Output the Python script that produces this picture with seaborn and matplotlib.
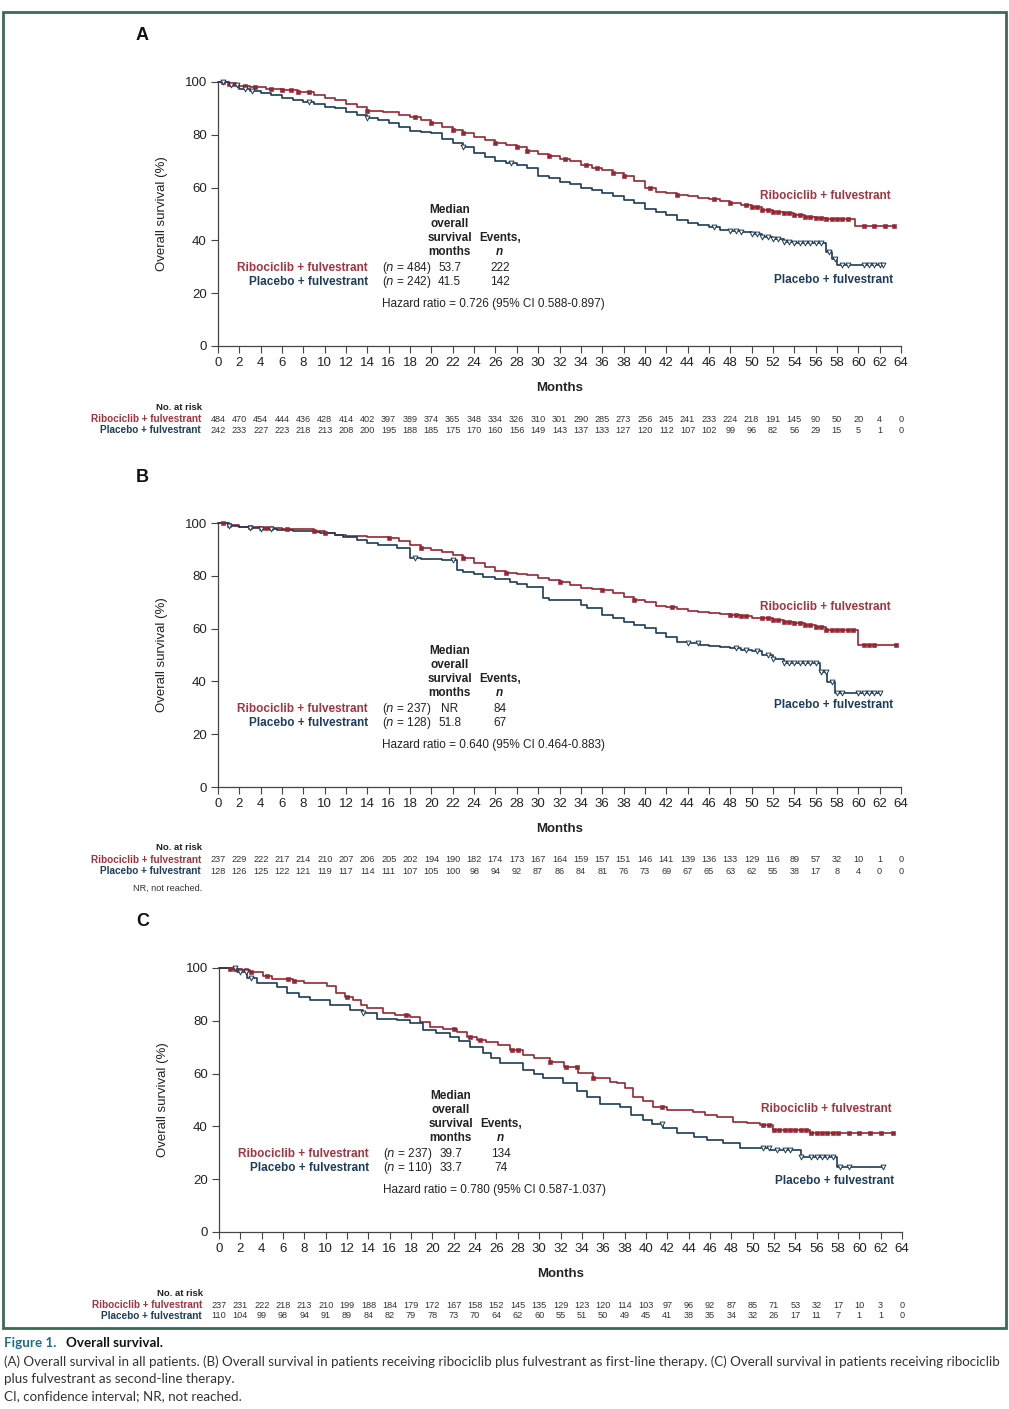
import numpy as np
import pandas as pd
import matplotlib
matplotlib.use("Agg")
import matplotlib.pyplot as plt
import matplotlib.transforms as mtransforms
from matplotlib.patches import Rectangle
import seaborn as sns

sns.set_theme(style="ticks")
plt.rcParams['font.family'] = ['Liberation Sans', 'DejaVu Sans']

RED = "#962632"
NAVY = "#1C3B5A"
RED_TXT = "#A3343E"
NAVY_TXT = "#1E3D5C"

months_ticks = list(range(0, 65, 2))

# ---------------- Panel A ----------------
a_ribo_t = [0, 1, 2, 3, 4.5, 6, 7.5, 9, 10, 11, 12, 13, 14, 15.5, 17, 18, 19, 20, 21, 22, 23, 24, 25, 26, 27, 28, 29, 30, 31, 32, 33, 34, 35, 36, 37, 38, 39, 40, 41, 42, 43, 44, 45, 46, 47, 48, 49, 50, 51, 52, 53, 54, 55, 56, 57, 58, 59.7, 63.3]
a_ribo_s = [100, 99.3, 98.6, 98, 97.3, 96.8, 96.2, 95, 94, 93, 91.5, 90.5, 89.2, 88.8, 87.5, 86.9, 85.5, 84.3, 83, 82, 80.5, 79, 78, 77, 76, 75.5, 74, 72.8, 72, 71, 70, 68.5, 67.3, 66.5, 65.5, 64.5, 62.5, 60, 58.5, 58, 57.3, 56.8, 56, 55.5, 54.8, 54, 53.3, 52.5, 51.5, 50.8, 50.3, 49.6, 49, 48.6, 48.1, 48, 45.6, 45.6]
a_plac_t = [0, 1, 2, 3, 4, 5, 6, 7, 8, 9, 10, 11, 12, 13, 14, 15, 16, 17, 18, 19, 20, 21, 22, 23, 24, 25, 26, 27, 28, 29, 30, 31, 32, 33, 34, 35, 36, 37, 38, 39, 40, 41, 42, 43, 44, 45, 46, 47, 48, 49, 50, 51, 52, 53, 54, 55, 56, 57, 57.5, 58, 62.3]
a_plac_s = [100, 98.8, 97.5, 96.5, 95.7, 95, 94, 93.2, 92.5, 91.5, 90.7, 90, 88.8, 87.5, 86.5, 85.5, 84.3, 83, 81.5, 81.2, 80.6, 78.5, 77, 75.5, 73, 71.7, 70, 69.5, 68.5, 67.3, 64.5, 63.5, 62.2, 61.5, 60, 59, 58, 57, 55.3, 54, 52, 50.9, 49.5, 47.7, 46.5, 45.8, 45, 44, 43.6, 43.3, 42.5, 41.4, 40.5, 39.5, 39.2, 38.9, 38.9, 35.7, 33, 30.7, 30.7]
a_ribo_cens = [0.5, 1, 1.5, 2.5, 3.5, 5, 6, 6.8, 7.5, 8.5, 14, 18.5, 20, 22, 23, 26, 28, 29, 31, 32.5, 34.5, 35.5, 37, 38, 40.5, 43, 46.5, 48, 49.5, 50, 50.5, 51, 51.5, 52, 52.5, 53, 53.5, 54, 54.5, 55, 55.5, 56, 56.5, 57, 57.5, 58, 58.5, 59, 60.5, 61.5, 62.5, 63.3]
a_plac_cens = [0.5, 1.2, 1.8, 2.5, 3.2, 8.5, 14, 23, 27.5, 46.5, 48, 48.5, 49, 50, 50.5, 51, 51.5, 52, 52.5, 53, 53.5, 54, 54.5, 55, 55.5, 56, 56.5, 57.3, 57.8, 58.5, 59, 60.5, 61, 61.5, 62, 62.3]
a_risk_ribo = [484, 470, 454, 444, 436, 428, 414, 402, 397, 389, 374, 365, 348, 334, 326, 310, 301, 290, 285, 273, 256, 245, 241, 233, 224, 218, 191, 145, 90, 50, 20, 4, 0]
a_risk_plac = [242, 233, 227, 223, 218, 213, 208, 200, 195, 188, 185, 175, 170, 160, 156, 149, 143, 137, 133, 127, 120, 112, 107, 102, 99, 96, 82, 56, 29, 15, 5, 1, 0]
a_stats = {"ribo_n": "484", "plac_n": "242", "ribo_med": "53.7", "plac_med": "41.5",
           "ribo_ev": "222", "plac_ev": "142", "hr": "Hazard ratio = 0.726 (95% CI 0.588-0.897)"}

# ---------------- Panel B ----------------
b_ribo_t = [0, 1, 2, 4, 6, 8, 9, 10, 11, 12, 14, 16, 17, 18, 19, 20, 21, 22, 23, 24, 25, 26, 27, 28, 29, 30, 31, 32, 33, 34, 35, 36, 37, 38, 39, 40, 41, 42, 43, 44, 45, 46, 47, 48, 49, 50, 51, 52, 53, 54, 55, 56, 57, 58, 59, 60, 63.5]
b_ribo_s = [100, 99.3, 98.6, 98.2, 97.9, 97.7, 97, 96.2, 95.5, 95.2, 94.6, 94.2, 93.3, 91.7, 90.5, 89.8, 89.1, 88, 86.6, 85, 83.5, 81.7, 80.9, 80.5, 80.3, 79, 78.4, 77.5, 76.5, 75.5, 75, 74.5, 73.5, 72.1, 71, 70, 68.7, 68.2, 67.5, 66.8, 66.4, 66, 65.5, 65.2, 64.8, 64.2, 63.9, 63.3, 62.5, 62, 61.2, 60.5, 59.5, 59.5, 59.5, 53.8, 53.8]
b_plac_t = [0, 1, 2, 3, 4, 5.5, 7, 9, 9.6, 11, 11.7, 13, 14, 15, 16.8, 18, 19, 21, 22.4, 23, 24, 24.8, 26, 27.4, 28, 29, 30.5, 31, 33, 34, 34.6, 36, 37, 38, 39, 40, 41, 42, 43, 44, 45.2, 46, 47, 48, 49, 50, 51, 52, 53, 54, 55, 56.4, 57.1, 57.8, 62]
b_plac_s = [100, 99, 98.5, 98, 97.6, 97.3, 96.8, 96.5, 96.1, 95.3, 94.8, 93.5, 92.3, 91.5, 90.4, 86.6, 86.3, 86, 82.2, 81.5, 80.5, 79.7, 78.8, 77.8, 77, 75.9, 71.5, 71, 70.8, 69, 67.7, 65.2, 64, 62.6, 61.2, 60.1, 58.5, 57, 55, 54.5, 53.8, 53.5, 53, 52.5, 51.9, 51.5, 50, 48.5, 46.8, 46.8, 46.8, 43.7, 39.9, 35.5, 35.5]
b_ribo_cens = [0.5, 1, 3, 4, 4.5, 5, 6.5, 9, 10, 16, 19, 23, 27, 32, 36, 39, 42.5, 48, 48.5, 49, 49.5, 51, 51.5, 52, 52.5, 53, 53.5, 54, 54.5, 55, 55.5, 56, 56.5, 57, 57.5, 58, 58.5, 59, 59.5, 60.5, 61, 61.5, 63.5]
b_plac_cens = [1, 3, 4, 5, 18.5, 22, 44, 45, 48.5, 49.5, 50.5, 51.5, 52, 53, 53.5, 54, 54.5, 55, 55.5, 56, 56.5, 57, 57.5, 58, 58.5, 60, 60.5, 61, 61.5, 62]
b_risk_ribo = [237, 229, 222, 217, 214, 210, 207, 206, 205, 202, 194, 190, 182, 174, 173, 167, 164, 159, 157, 151, 146, 141, 139, 136, 133, 129, 116, 89, 57, 32, 10, 1, 0]
b_risk_plac = [128, 126, 125, 122, 121, 119, 117, 114, 111, 107, 105, 100, 98, 94, 92, 87, 86, 84, 81, 76, 73, 69, 67, 65, 63, 62, 55, 38, 17, 8, 4, 0, 0]
b_stats = {"ribo_n": "237", "plac_n": "128", "ribo_med": "NR", "plac_med": "51.8",
           "ribo_ev": "84", "plac_ev": "67", "hr": "Hazard ratio = 0.640 (95% CI 0.464-0.883)"}

# ---------------- Panel C ----------------
c_ribo_t = [0, 1, 2, 2.9, 4.1, 5, 6.9, 8, 10.1, 11, 11.8, 12.6, 13.3, 13.9, 15.4, 16.5, 17.9, 18.8, 19.8, 21, 22.3, 23.2, 24.2, 25, 26.1, 27.3, 28.5, 29.5, 31, 32.3, 33.6, 35, 36.6, 37.3, 38, 38.8, 39.7, 40.7, 42, 44.4, 45.5, 46.7, 48.2, 49.5, 50.7, 51.9, 55.4, 63.2]
c_ribo_s = [100, 99.6, 99.2, 98.6, 97, 96, 95.2, 94.5, 93.2, 90.4, 89, 87.9, 86, 84.7, 82.8, 82.2, 81.6, 79.5, 77.8, 77, 75.9, 74, 72.7, 71.8, 70.8, 69, 67, 66, 64.5, 62.5, 60.1, 58.5, 56.9, 56.3, 54.5, 51.3, 49.5, 47.5, 46.2, 45.6, 44.5, 43.7, 41.8, 41.2, 40.5, 38.6, 37.4, 37.4]
c_plac_t = [0, 1.7, 2.6, 3.6, 5.4, 6.4, 7.5, 8.5, 10.4, 12.3, 13.5, 14.8, 16.7, 17.9, 19.1, 20.3, 21.6, 22.5, 23.5, 24.7, 25.5, 26.3, 28.5, 29.5, 30.4, 32.2, 33.5, 34.5, 35.7, 37.6, 38.6, 39.7, 40.6, 41.6, 42.9, 44.5, 45.7, 47.2, 48.8, 51.6, 54.5, 57.9, 62.2]
c_plac_s = [100, 98.6, 96.1, 94.2, 92.9, 90.4, 89, 87.9, 86, 84.1, 82.8, 80.6, 80.3, 79, 76.5, 75.5, 74, 72.5, 70.2, 67.7, 66, 63.9, 61.4, 59.8, 58.2, 56.3, 53.5, 51.3, 48.5, 47.5, 44.5, 42.4, 40.8, 39.3, 37.4, 36, 34.8, 33.6, 31.7, 31.1, 28.5, 24.5, 24.5]
c_ribo_cens = [1, 1.5, 2, 2.5, 3, 4.5, 6.5, 7, 12, 17.5, 22, 23.5, 24.5, 27.5, 28, 31, 32.5, 33.5, 35, 41.5, 51, 51.5, 52, 52.5, 53, 53.5, 54, 54.5, 55, 55.5, 56, 56.5, 57, 57.5, 58, 59, 60, 61, 62, 63.2]
c_plac_cens = [1.5, 2, 2.5, 3, 13.5, 41.5, 51, 51.5, 52.3, 53, 53.5, 54.5, 55.5, 56, 56.5, 57, 57.5, 58.2, 59, 62.2]
c_risk_ribo = [237, 231, 222, 218, 213, 210, 199, 188, 184, 179, 172, 167, 158, 152, 145, 135, 129, 123, 120, 114, 103, 97, 96, 92, 87, 85, 71, 53, 32, 17, 10, 3, 0]
c_risk_plac = [110, 104, 99, 98, 94, 91, 89, 84, 82, 79, 78, 73, 70, 64, 62, 60, 55, 51, 50, 49, 45, 41, 38, 35, 34, 32, 26, 17, 11, 7, 1, 1, 0]
c_stats = {"ribo_n": "237", "plac_n": "110", "ribo_med": "39.7", "plac_med": "33.7",
           "ribo_ev": "134", "plac_ev": "74", "hr": "Hazard ratio = 0.780 (95% CI 0.587-1.037)"}

W, H = 1009, 1409
fig = plt.figure(figsize=(W / 100, H / 100), dpi=100)
fig.patch.set_facecolor("white")

# border
fig.patches.append(Rectangle((3 / W, 1 - 1328 / H), 1003 / W, 1316 / H, transform=fig.transFigure,
                             fill=False, edgecolor="#3b6a55", linewidth=2.0))


def step_at(ts, ss, x):
    idx = np.searchsorted(np.asarray(ts), np.asarray(x), side="right") - 1
    return np.asarray(ss)[np.clip(idx, 0, len(ss) - 1)]


def panel(letter, left_px, y0_px, rt, rs, pt, ps, rc, pc, rr, rp, st, lab_pos, nr_note=False):
    y100_px = y0_px - 264
    ax = fig.add_axes([left_px / W, 1 - y0_px / H, 683 / W, 264 / H])
    df = pd.concat([
        pd.DataFrame({"Months": rt, "OS": rs, "arm": "Ribociclib + fulvestrant"}),
        pd.DataFrame({"Months": pt, "OS": ps, "arm": "Placebo + fulvestrant"}),
    ])
    sns.lineplot(data=df, x="Months", y="OS", hue="arm", estimator=None, sort=False,
                 palette={"Ribociclib + fulvestrant": RED, "Placebo + fulvestrant": NAVY},
                 drawstyle="steps-post", linewidth=1.2, legend=False, ax=ax, clip_on=False)
    cr = pd.DataFrame({"Months": rc, "OS": step_at(rt, rs, rc)})
    cp = pd.DataFrame({"Months": pc, "OS": step_at(pt, ps, pc)})
    sns.scatterplot(data=cr, x="Months", y="OS", marker="s", s=8, color=RED, edgecolor=RED,
                    linewidth=0.4, ax=ax, clip_on=False, zorder=3)
    sns.scatterplot(data=cp, x="Months", y="OS", marker="v", s=12, facecolor="white", edgecolor=NAVY,
                    linewidth=0.7, ax=ax, clip_on=False, zorder=3)
    ax.set_xlim(0, 64)
    ax.set_ylim(0, 100)
    ax.set_xticks(months_ticks)
    ax.set_yticks([0, 20, 40, 60, 80, 100])
    for sp in ["top", "right"]:
        ax.spines[sp].set_visible(False)
    for sp in ["left", "bottom"]:
        ax.spines[sp].set_color("#444444")
        ax.spines[sp].set_linewidth(0.9)
    ax.tick_params(axis="both", direction="out", length=5, width=0.8, color="#444444",
                   labelsize=9.5, labelcolor="#222222", pad=3)
    ax.set_xlabel("Months", fontsize=9.5, fontweight="bold", color="#222222", labelpad=9)
    ax.set_ylabel("Overall survival (%)", fontsize=9.5, color="#222222", labelpad=12)
    ax.set_facecolor("white")
    ax.grid(False)

    fig.text((left_px - 76) / W, 1 - (y100_px - 46) / H, letter, fontsize=13, fontweight="bold",
             ha="center", va="center", color="#111111")

    # stats block
    tx = dict(fontsize=8.5, color="#222222", va="center")
    col_med, col_ev, col_n, col_lab = 21.7, 26.4, 15.4, 14.05
    for k, line in enumerate(["Median", "overall", "survival", "months"]):
        ax.text(col_med, 51.5 - 5.3 * k, line, ha="center", fontweight="bold", **tx)
    ax.text(col_ev, 40.9, "Events,", ha="center", fontweight="bold", **tx)
    ax.text(col_ev, 35.6, "n", ha="center", fontweight="bold", style="italic", **tx)
    ax.text(col_lab, 29.5, "Ribociclib + fulvestrant", ha="right", fontweight="bold",
            fontsize=8.5, color=RED_TXT, va="center")
    ax.text(col_lab, 24.2, "Placebo + fulvestrant", ha="right", fontweight="bold",
            fontsize=8.5, color=NAVY_TXT, va="center")
    ax.text(col_n, 29.5, "($n$ = " + st["ribo_n"] + ")", ha="left", **tx)
    ax.text(col_n, 24.2, "($n$ = " + st["plac_n"] + ")", ha="left", **tx)
    ax.text(col_med, 29.5, st["ribo_med"], ha="center", **tx)
    ax.text(col_med, 24.2, st["plac_med"], ha="center", **tx)
    ax.text(col_ev, 29.5, st["ribo_ev"], ha="center", **tx)
    ax.text(col_ev, 24.2, st["plac_ev"], ha="center", **tx)
    ax.text(col_n, 15.8, st["hr"], ha="left", **tx)

    # curve labels
    ax.text(56.9, lab_pos[0], "Ribociclib + fulvestrant", ha="center", va="center",
            fontweight="bold", fontsize=8.5, color=RED_TXT)
    ax.text(57.7, lab_pos[1], "Placebo + fulvestrant", ha="center", va="center",
            fontweight="bold", fontsize=8.5, color=NAVY_TXT)

    # risk table
    trans = mtransforms.blended_transform_factory(ax.transData, ax.transAxes)
    ry1 = -73 / 264
    ry2 = -84 / 264
    ax.text(-1.5, -61 / 264, "No. at risk", transform=trans, ha="right", va="center",
            fontsize=6.8, fontweight="bold", color="#222222")
    ax.text(-1.6, ry1, "Ribociclib + fulvestrant", transform=trans, ha="right", va="center",
            fontsize=7.2, fontweight="semibold", color=RED_TXT)
    ax.text(-1.6, ry2, "Placebo + fulvestrant", transform=trans, ha="right", va="center",
            fontsize=7.2, fontweight="semibold", color=NAVY_TXT)
    for m, a, b in zip(months_ticks, rr, rp):
        ax.text(m, ry1, str(a), transform=trans, ha="center", va="center", fontsize=6.6, color="#333333")
        ax.text(m, ry2, str(b), transform=trans, ha="center", va="center", fontsize=6.6, color="#333333")
    if nr_note:
        ax.text(-1.5, -101 / 264, "NR, not reached.", transform=trans, ha="right", va="center",
                fontsize=6.6, color="#333333")
    return ax


panel("A", 218, 346, a_ribo_t, a_ribo_s, a_plac_t, a_plac_s, a_ribo_cens, a_plac_cens,
      a_risk_ribo, a_risk_plac, a_stats, (56.8, 25.0))
panel("B", 218, 787, b_ribo_t, b_ribo_s, b_plac_t, b_plac_s, b_ribo_cens, b_plac_cens,
      b_risk_ribo, b_risk_plac, b_stats, (68.2, 31.1), nr_note=True)
panel("C", 219, 1232, c_ribo_t, c_ribo_s, c_plac_t, c_plac_s, c_ribo_cens, c_plac_cens,
      c_risk_ribo, c_risk_plac, c_stats, (46.6, 19.3))

# caption
cap = dict(fontsize=9.65, family=["Lato", "DejaVu Sans"], va="center")
fig.text(4 / W, 1 - 1343 / H, "Figure 1.", color="#1b6f8a", fontweight="bold", **cap)
fig.text(66 / W, 1 - 1343 / H, "Overall survival.", color="#111111", fontweight="bold", **cap)
fig.text(4 / W, 1 - 1362 / H,
         "(A) Overall survival in all patients. (B) Overall survival in patients receiving ribociclib plus fulvestrant as first-line therapy. (C) Overall survival in patients receiving ribociclib",
         color="#333333", **cap)
fig.text(4 / W, 1 - 1379 / H, "plus fulvestrant as second-line therapy.", color="#333333", **cap)
fig.text(4 / W, 1 - 1396 / H, "CI, confidence interval; NR, not reached.", color="#333333", **cap)

fig.savefig("out.png", dpi=100, facecolor="white")
